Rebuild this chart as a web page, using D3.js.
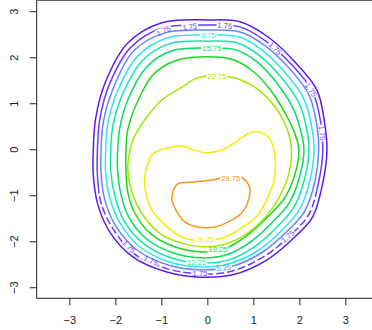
<!DOCTYPE html>
<html>
<head>
<meta charset="utf-8">
<script src="https://cdn.jsdelivr.net/npm/d3@7"></script>
<style>
  body { margin: 0; background: #fff; }
  svg { display: block; font-family: "Liberation Sans", Arial, Helvetica, sans-serif; }
</style>
</head>
<body>
<svg id="chart" width="372" height="330"></svg>
<script>
// Contour levels, one entry per drawn ring (the 1.75 level closes twice near the rim)
const ringLevels = [1.75, 1.75, 5.25, 8.75, 12.25, 15.75, 19.25, 22.75, 26.25, 29.75];

// Each ring as [x, y] vertices in data units
const ring175Outer = [[0.01,2.81],[0.71,2.77],[1.32,2.44],[1.90,1.90],[2.38,1.29],[2.55,0.57],[2.60,-0.02],[2.51,-0.73],[2.29,-1.47],[1.95,-1.86],[1.29,-2.41],[0.55,-2.73],[-0.16,-2.78],[-0.88,-2.67],[-1.62,-2.34],[-2.12,-1.80],[-2.38,-1.21],[-2.48,-0.56],[-2.48,-0.02],[-2.43,0.66],[-2.22,1.45],[-1.73,2.31],[-0.99,2.75]];
const ring175Inner = [[0.01,2.70],[0.71,2.66],[1.27,2.35],[1.84,1.83],[2.29,1.25],[2.47,0.55],[2.51,-0.02],[2.42,-0.71],[2.21,-1.41],[1.88,-1.80],[1.25,-2.32],[0.53,-2.65],[-0.16,-2.71],[-0.86,-2.60],[-1.58,-2.28],[-2.05,-1.73],[-2.31,-1.17],[-2.39,-0.56],[-2.39,-0.02],[-2.34,0.64],[-2.13,1.41],[-1.66,2.22],[-0.97,2.64]];
const ring525 = [[0.01,2.59],[0.71,2.55],[1.23,2.27],[1.77,1.77],[2.21,1.18],[2.38,0.53],[2.42,-0.02],[2.34,-0.69],[2.12,-1.34],[1.79,-1.73],[1.18,-2.25],[0.49,-2.56],[-0.16,-2.62],[-0.84,-2.52],[-1.53,-2.19],[-1.99,-1.67],[-2.23,-1.10],[-2.31,-0.54],[-2.31,-0.02],[-2.26,0.60],[-2.04,1.34],[-1.60,2.14],[-0.92,2.53]];
const ring875 = [[0.01,2.48],[0.71,2.44],[1.18,2.16],[1.68,1.68],[2.10,1.09],[2.27,0.48],[2.32,-0.02],[2.23,-0.67],[2.01,-1.30],[1.71,-1.67],[1.12,-2.19],[0.47,-2.49],[-0.16,-2.56],[-0.82,-2.45],[-1.47,-2.12],[-1.90,-1.60],[-2.12,-1.06],[-2.21,-0.52],[-2.21,-0.02],[-2.16,0.57],[-1.95,1.27],[-1.51,2.03],[-0.88,2.42]];
const ring1225 = [[0.01,2.35],[0.66,2.31],[1.14,2.03],[1.60,1.57],[1.99,1.01],[2.16,0.44],[2.21,-0.02],[2.12,-0.62],[1.90,-1.23],[1.62,-1.58],[1.05,-2.10],[0.45,-2.41],[-0.16,-2.47],[-0.79,-2.36],[-1.40,-2.04],[-1.82,-1.54],[-2.01,-1.02],[-2.10,-0.49],[-2.10,-0.02],[-2.05,0.53],[-1.84,1.20],[-1.42,1.92],[-0.84,2.29]];
const ring1575 = [[0.01,2.20],[0.62,2.16],[1.08,1.90],[1.51,1.44],[1.86,0.90],[2.03,0.40],[2.10,-0.02],[2.01,-0.58],[1.79,-1.15],[1.51,-1.49],[0.97,-1.99],[0.40,-2.30],[-0.16,-2.36],[-0.75,-2.25],[-1.32,-1.95],[-1.71,-1.47],[-1.88,-0.97],[-1.95,-0.47],[-1.95,-0.02],[-1.90,0.48],[-1.71,1.12],[-1.32,1.79],[-0.77,2.14]];
const ring1925 = [[0.01,2.01],[0.58,1.94],[1.01,1.68],[1.40,1.25],[1.71,0.75],[1.90,0.35],[1.99,-0.02],[1.90,-0.56],[1.68,-1.06],[1.40,-1.38],[0.88,-1.86],[0.36,-2.17],[-0.16,-2.23],[-0.71,-2.12],[-1.23,-1.84],[-1.58,-1.38],[-1.73,-0.93],[-1.77,-0.45],[-1.77,-0.02],[-1.73,0.42],[-1.53,1.01],[-1.18,1.62],[-0.71,1.92]];
const ring2275 = [[0.01,1.59],[0.60,1.55],[1.03,1.35],[1.40,1.01],[1.68,0.57],[1.82,0.09],[1.79,-0.45],[1.62,-0.93],[1.25,-1.49],[0.82,-1.86],[0.32,-2.08],[-0.12,-2.12],[-0.55,-2.04],[-0.99,-1.86],[-1.36,-1.49],[-1.62,-0.99],[-1.73,-0.41],[-1.68,-0.02],[-1.60,0.25],[-1.36,0.64],[-0.99,1.07],[-0.55,1.35],[-0.27,1.53]];
const ring2625 = [[-1.03,-0.02],[-0.77,0.05],[-0.53,0.07],[-0.27,-0.02],[-0.01,-0.08],[0.23,-0.04],[0.45,0.05],[0.77,0.27],[0.99,0.38],[1.21,0.35],[1.38,0.18],[1.47,-0.19],[1.45,-0.67],[1.29,-1.10],[1.10,-1.43],[0.75,-1.71],[0.32,-1.93],[-0.12,-1.99],[-0.55,-1.91],[-0.92,-1.65],[-1.21,-1.32],[-1.34,-0.95],[-1.36,-0.60],[-1.29,-0.30],[-1.21,-0.12]];
const ring2975 = [[-0.64,-0.75],[-0.27,-0.71],[0.10,-0.67],[0.32,-0.62],[0.75,-0.62],[0.92,-0.84],[0.88,-1.15],[0.75,-1.38],[0.53,-1.54],[0.16,-1.69],[-0.21,-1.69],[-0.49,-1.58],[-0.66,-1.36],[-0.77,-1.10],[-0.75,-0.93]];

// In-line contour labels: which ring, where (data units) and the text angle
const labelRing  = [3, 5, 7, 9, 8, 6, 4, 2, 1, 1, 1, 1, 1, 1, 1, 1, 1, 1];
const labelX     = [0.02, 0.10, 0.21, 0.51, -0.05, 0.23, -0.23, 0.36, -0.16, -0.95, -0.38, 0.38, 1.47, 2.25, 2.49, 1.75, -1.71, -1.23];
const labelY     = [2.48, 2.20, 1.58, -0.63, -1.97, -2.19, -2.46, -2.58, -2.71, 2.57, 2.66, 2.68, 2.19, 1.29, 0.35, -1.90, -2.12, -2.42];
const labelAngle = [0, 0, 0, 0, 0, 0, 0, -5, 0, -25, -8, 5, 45, 55, 84, -40, 45, 24];

// Axis ticks
const xTicks = [-3, -2, -1, 0, 1, 2, 3];
const yTicks = [-3, -2, -1, 0, 1, 2, 3];

const rings = [ring175Outer, ring175Inner, ring525, ring875, ring1225, ring1575, ring1925, ring2275, ring2625, ring2975];
const ringColors = ["#5a1cf0", "#6a3cff", "#6088ff", "#2ee6f2", "#10e8a8", "#00e060", "#18d818", "#a2e800", "#eeee00", "#f5961e"];
// The inner rim ring breaks into short pieces below this y (data units)
const brokenBelow = -0.9;

const svg = d3.select("#chart");
const x = d3.scaleLinear().domain([-3.71, 3.71]).range([36.7, 378.0]);
const y = d3.scaleLinear().domain([-3.24, 3.24]).range([298.3, 0.2]);

const fmt = d3.format(".2f");
const minus = s => String(s).replace("-", "\u2212");

const defs = svg.append("defs");
defs.append("clipPath").attr("id", "upperPart")
  .append("rect").attr("x", 0).attr("y", 0).attr("width", 372).attr("height", y(brokenBelow));
defs.append("clipPath").attr("id", "lowerPart")
  .append("rect").attr("x", 0).attr("y", y(brokenBelow)).attr("width", 372).attr("height", 330 - y(brokenBelow));

// Label glyphs first so their sizes can cut gaps into their own ring
const labelLayer = svg.append("g").attr("class", "labels");
const labels = labelRing.map((r, i) => {
  const g = labelLayer.append("g")
    .attr("transform", `translate(${x(labelX[i])},${y(labelY[i])}) rotate(${labelAngle[i]})`);
  const t = g.append("text")
    .attr("text-anchor", "middle")
    .attr("dominant-baseline", "central")
    .attr("font-size", 7.6)
    .attr("fill", ringColors[r])
    .text(fmt(ringLevels[r]));
  return { g, t, r, i };
});

// One mask per ring, blanking the line under that ring's own labels
rings.forEach((pts, r) => {
  const m = defs.append("mask").attr("id", "gap" + r).attr("maskUnits", "userSpaceOnUse")
    .attr("x", 0).attr("y", 0).attr("width", 372).attr("height", 330);
  m.append("rect").attr("width", 372).attr("height", 330).attr("fill", "#fff");
  labels.filter(l => l.r === r).forEach(l => {
    const b = l.t.node().getBBox();
    m.append("rect")
      .attr("transform", `translate(${x(labelX[l.i])},${y(labelY[l.i])}) rotate(${labelAngle[l.i]})`)
      .attr("x", b.x - 1).attr("y", b.y + 0.5)
      .attr("width", b.width + 2).attr("height", b.height - 1)
      .attr("fill", "#000");
  });
});

const line = d3.line()
  .x(d => x(d[0]))
  .y(d => y(d[1]))
  .curve(d3.curveCatmullRomClosed.alpha(0.5));

const ringLayer = svg.insert("g", ".labels").attr("class", "rings");
const ringGroups = ringLayer.selectAll("g")
  .data(rings)
  .join("g")
  .attr("mask", (d, i) => `url(#gap${i})`);

ringGroups.each(function (d, i) {
  const g = d3.select(this);
  const base = p => p.attr("d", line(d))
    .attr("fill", "none")
    .attr("stroke", ringColors[i])
    .attr("stroke-width", 1.5)
    .attr("stroke-linejoin", "round");
  if (i === 1) {
    base(g.append("path")).attr("clip-path", "url(#upperPart)");
    base(g.append("path")).attr("clip-path", "url(#lowerPart)").attr("stroke-dasharray", "8,3");
  } else {
    base(g.append("path"));
  }
});

// Frame
svg.append("rect")
  .attr("x", x.range()[0]).attr("y", y.range()[1])
  .attr("width", x.range()[1] - x.range()[0])
  .attr("height", y.range()[0] - y.range()[1])
  .attr("fill", "none").attr("stroke", "#222").attr("stroke-width", 1);

// Bottom axis
const xAxis = svg.append("g")
  .attr("transform", `translate(0,${y.range()[0]})`)
  .call(d3.axisBottom(x).tickValues(xTicks).tickSize(7).tickFormat(minus));
xAxis.select(".domain").remove();
xAxis.selectAll("line").attr("stroke", "#222");
xAxis.selectAll("text")
  .attr("y", 25.7).attr("dy", null)
  .attr("font-size", 11).attr("fill", "#222")
  .attr("font-family", "Liberation Sans, Arial, sans-serif");

// Left axis, labels turned to read upward
const yAxis = svg.append("g")
  .attr("transform", `translate(${x.range()[0]},0)`)
  .call(d3.axisLeft(y).tickValues(yTicks).tickSize(7).tickFormat(minus));
yAxis.select(".domain").remove();
yAxis.selectAll("line").attr("stroke", "#222");
yAxis.selectAll("text")
  .attr("x", null).attr("dy", null)
  .attr("transform", "translate(-19.2,0) rotate(-90)")
  .attr("text-anchor", "middle")
  .attr("font-size", 11).attr("fill", "#222")
  .attr("font-family", "Liberation Sans, Arial, sans-serif");
</script>
</body>
</html>
